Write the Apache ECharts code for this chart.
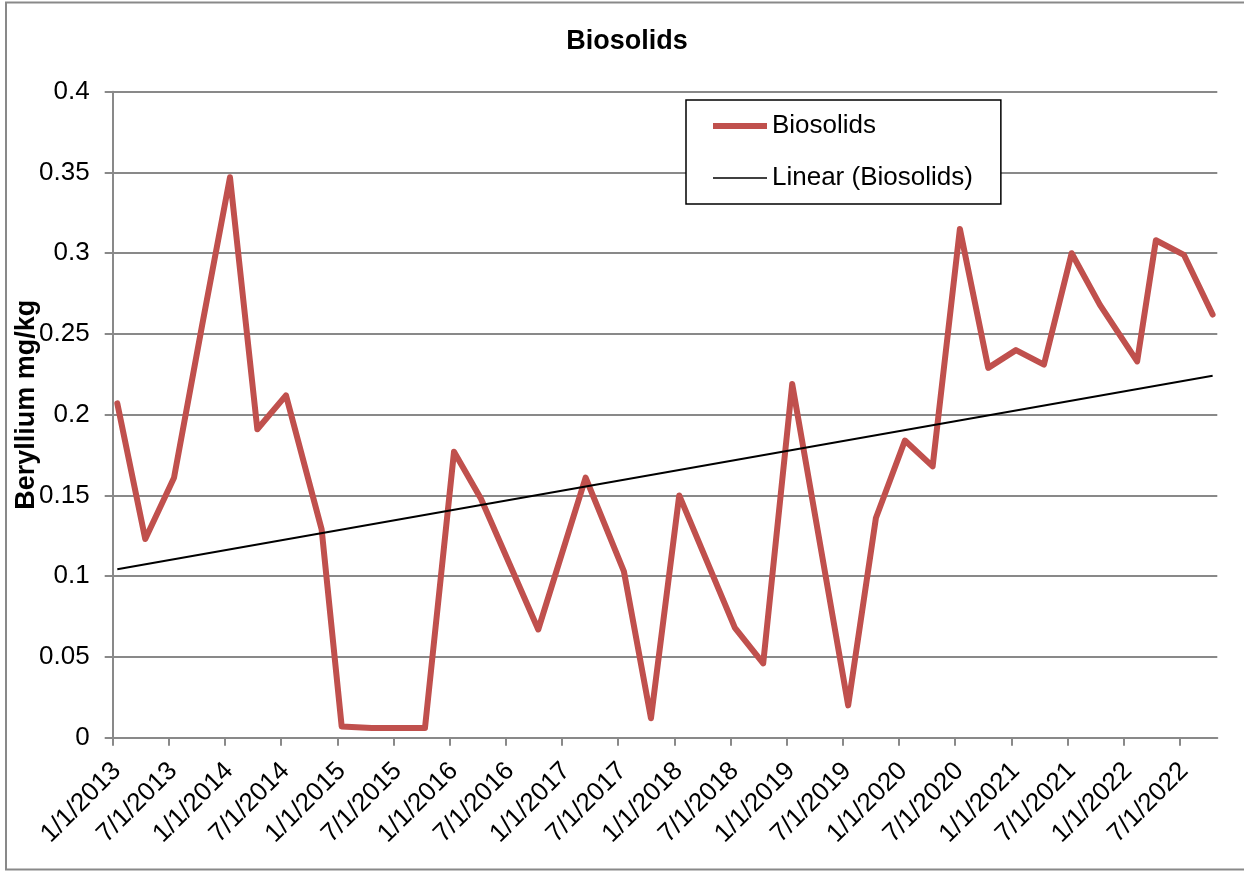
<!DOCTYPE html>
<html>
<head>
<meta charset="utf-8">
<title>Biosolids</title>
<script src="https://cdn.jsdelivr.net/npm/echarts@6/dist/echarts.min.js"></script>
<style>
    html, body { margin: 0; padding: 0; background: #fff; }
    #chart { width: 1244px; height: 871px; }
</style>
</head>
<body>
<div id="chart"></div>
<script>
    // sample dates as months since 1/1/2013
    var months = [0.49, 3.48, 6.55, 9.54, 12.53, 15.45, 18.51, 22.32, 24.46, 27.67, 30.5, 33.36,
        36.46, 39.34, 45.46, 50.52, 54.61, 57.5, 60.52, 66.47, 69.49, 72.59, 78.57, 81.53,
        84.63, 87.59, 90.5, 93.53, 96.49, 99.48, 102.44, 105.46, 109.44, 111.44, 114.43, 117.5];
    var beryllium = [0.207, 0.123, 0.161, 0.255, 0.347, 0.191, 0.212, 0.129, 0.007, 0.006, 0.006, 0.006,
        0.177, 0.148, 0.067, 0.161, 0.103, 0.012, 0.150, 0.068, 0.046, 0.219, 0.020, 0.136,
        0.184, 0.168, 0.315, 0.229, 0.240, 0.231, 0.300, 0.268, 0.233, 0.308, 0.299, 0.262];
    // linear trend end points
    var trendMonths = [0.49, 117.5];
    var trendValues = [0.1043, 0.2241];
    var tickMonths = [0, 6, 12, 18, 24, 30, 36, 42, 48, 54, 60, 66, 72, 78, 84, 90, 96, 102, 108, 114];
    var tickLabels = ['1/1/2013', '7/1/2013', '1/1/2014', '7/1/2014', '1/1/2015', '7/1/2015',
        '1/1/2016', '7/1/2016', '1/1/2017', '7/1/2017', '1/1/2018', '7/1/2018', '1/1/2019',
        '7/1/2019', '1/1/2020', '7/1/2020', '1/1/2021', '7/1/2021', '1/1/2022', '7/1/2022'];

    var font = 'Liberation Sans, Arial, sans-serif';
    var gray = '#898989';

    let myChart = echarts.init(document.getElementById('chart'));
    let option = {
        animation: false,
        title: {
            text: 'Biosolids',
            left: 627,
            textAlign: 'center',
            top: 28,
            padding: 0,
            textStyle: { fontFamily: font, fontSize: 27, fontWeight: 'bold', color: '#000' }
        },
        legend: {
            orient: 'vertical',
            left: 686,
            top: 100,
            padding: [13, 28, 13, 27],
            itemGap: 26,
            itemWidth: 54,
            itemHeight: 14,
            backgroundColor: '#fff',
            borderColor: '#000',
            borderWidth: 1.5,
            textStyle: { fontFamily: font, fontSize: 26, color: '#000', lineHeight: 26 },
            data: [
                { name: 'Biosolids', icon: 'path://M0,0M54,14M0,4L54,4L54,10L0,10Z' },
                { name: 'Linear (Biosolids)', icon: 'path://M0,0M54,14M0,6.2L54,6.2L54,7.8L0,7.8Z' }
            ]
        },
        grid: {
            left: 112.7,
            right: 26.7,
            top: 91.7,
            bottom: 133.3,
            containLabel: false,
            outerBoundsMode: 'none'
        },
        xAxis: {
            type: 'value',
            min: 0,
            max: 118,
            interval: 6,
            splitLine: { show: false },
            axisLine: { show: true, lineStyle: { color: gray, width: 2 } },
            axisTick: { show: true, length: 8, customValues: tickMonths, lineStyle: { color: gray, width: 2 } },
            axisLabel: {
                customValues: tickMonths,
                rotate: 45,
                margin: 25,
                verticalAlign: 'top',
                lineHeight: 12,
                fontFamily: font,
                fontSize: 26,
                color: '#000',
                formatter: function (v) {
                    var i = tickMonths.indexOf(Math.round(v));
                    return i >= 0 ? tickLabels[i] : '';
                }
            }
        },
        yAxis: {
            type: 'value',
            min: 0,
            max: 0.4,
            interval: 0.05,
            name: 'Beryllium mg/kg',
            nameLocation: 'middle',
            nameGap: 73,
            nameMoveOverlap: false,
            nameTextStyle: { fontFamily: font, fontSize: 27, fontWeight: 'bold', color: '#000', padding: [0, 0, 0, 20] },
            axisLine: { show: true, lineStyle: { color: gray, width: 2 } },
            axisTick: { show: true, length: 8, lineStyle: { color: gray, width: 2 } },
            splitLine: { show: true, lineStyle: { color: gray, width: 2 } },
            axisLabel: { margin: 23, fontFamily: font, fontSize: 26, color: '#000' }
        },
        graphic: [{
            type: 'rect',
            shape: { x: 6, y: 2.5, width: 1260, height: 867 },
            style: { fill: 'none', stroke: gray, lineWidth: 2 },
            silent: true
        }],
        series: [{
            name: 'Biosolids',
            type: 'line',
            symbol: 'none',
            data: months.map(function (m, i) { return [m, beryllium[i]]; }),
            lineStyle: { color: '#C0504D', width: 6, cap: 'round', join: 'round' },
            itemStyle: { color: '#C0504D' }
        }, {
            name: 'Linear (Biosolids)',
            type: 'line',
            symbol: 'none',
            data: trendMonths.map(function (m, i) { return [m, trendValues[i]]; }),
            lineStyle: { color: '#000', width: 2 },
            itemStyle: { color: '#000' }
        }]
    };
    myChart.setOption(option);
</script>
</body>
</html>
